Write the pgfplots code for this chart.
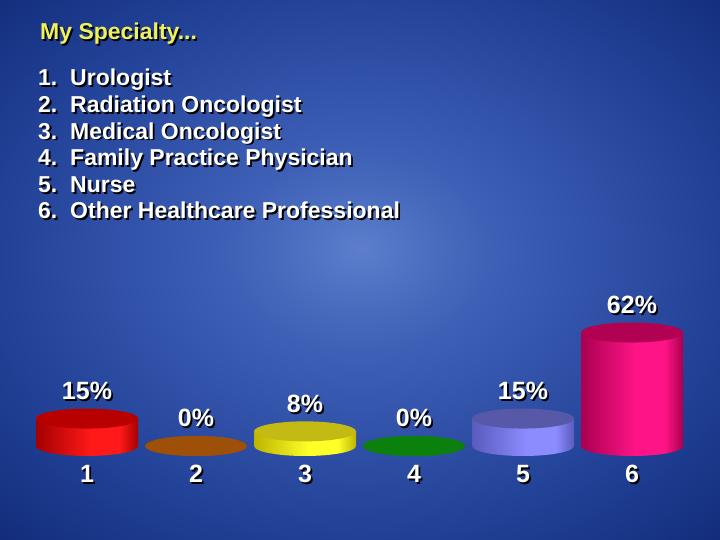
\documentclass[border=0pt]{standalone}
\usepackage{pgfplots}
\pgfplotsset{compat=1.18}
\usepackage{fontspec}
\setmainfont{Liberation Sans}

\definecolor{bgA}{RGB}{92,126,204}
\definecolor{bgB}{RGB}{62,96,182}
\definecolor{bgC}{RGB}{34,66,152}
\definecolor{bgD}{RGB}{18,44,122}
\definecolor{titleyellow}{RGB}{240,240,90}

\definecolor{r1d}{RGB}{165,0,0}\definecolor{r1b}{RGB}{255,25,25}\definecolor{r1t}{RGB}{185,0,0}
\definecolor{b2d}{RGB}{120,60,0}\definecolor{b2b}{RGB}{170,90,10}\definecolor{b2t}{RGB}{158,80,8}
\definecolor{y3d}{RGB}{190,180,0}\definecolor{y3b}{RGB}{255,255,40}\definecolor{y3t}{RGB}{196,186,20}
\definecolor{g4d}{RGB}{0,100,0}\definecolor{g4b}{RGB}{20,140,20}\definecolor{g4t}{RGB}{12,128,12}
\definecolor{p5d}{RGB}{90,90,190}\definecolor{p5b}{RGB}{140,140,255}\definecolor{p5t}{RGB}{88,88,168}
\definecolor{m6d}{RGB}{170,0,80}\definecolor{m6b}{RGB}{255,20,135}\definecolor{m6t}{RGB}{178,0,82}

\pgfdeclareradialshading{slidebg}{\pgfpoint{0bp}{2bp}}{color(0bp)=(bgA); color(9bp)=(bgB); color(25bp)=(bgC); color(36bp)=(bgD); color(50bp)=(bgD)}

\newcommand\defbody[3]{%
  \pgfdeclarehorizontalshading{#1}{100bp}{color(0bp)=(#2); color(25bp)=(#2); color(52bp)=(#3); color(66bp)=(#3); color(75bp)=(#2); color(100bp)=(#2)}%
  \pgfdeclareplotmark{cylbot-#1}{\pgfpathellipse{\pgfpointorigin}{\pgfqpoint{51pt}{0pt}}{\pgfqpoint{0pt}{10pt}}\pgfshadepath{#1}{0}\pgfusepath{discard}}%
}
\defbody{body1}{r1d}{r1b}
\defbody{body2}{b2d}{b2b}
\defbody{body3}{y3d}{y3b}
\defbody{body4}{g4d}{g4b}
\defbody{body5}{p5d}{p5b}
\defbody{body6}{m6d}{m6b}
\pgfdeclareplotmark{cyltop}{\pgfpathellipse{\pgfpointorigin}{\pgfqpoint{51pt}{0pt}}{\pgfqpoint{0pt}{10pt}}\pgfusepath{fill}}

\newcommand\sh[1]{\leavevmode\rlap{\kern1.8pt\raisebox{-1.8pt}{\color{black}#1}}#1}
\newcommand\titlefont{\bfseries\fontsize{23}{26}\selectfont}
\newcommand\listfont{\bfseries\fontsize{23}{26}\selectfont}
\newcommand\numfont{\bfseries\fontsize{25}{28}\selectfont}

% x position, value (percent), body shading, top colour
\newcommand\cyl[4]{%
  \addplot[ybar, bar width=102pt, bar shift=0pt, draw=none, shade, shading=#3] coordinates {(#1,#2)};
  \addplot[only marks, mark=cylbot-#3] coordinates {(#1,0)};
  \addplot[only marks, mark=cyltop, mark options={fill=#4, draw=none},
    nodes near coords={\sh{\pgfmathprintnumber{\pgfplotspointmeta}\%}},
    every node near coord/.append style={anchor=base, yshift=19pt, inner sep=0pt, text=white, font=\numfont}]
    coordinates {(#1,#2)};
}

\begin{document}
\begin{tikzpicture}
\shade[shading=slidebg] (0pt,0pt) rectangle (720pt,540pt);
\begin{axis}[
  at={(0pt,0pt)}, anchor=south west,
  x=109pt, y=1.83pt,
  xmin=0.2018, xmax=6.8073, ymin=-51.366, ymax=243.716,
  enlargelimits=false, clip=false,
  axis line style={draw=none}, tick style={draw=none},
  ytick=\empty,
  xtick={1,2,3,4,5,6},
  xticklabels={\sh{1},\sh{2},\sh{3},\sh{4},\sh{5},\sh{6}},
  xticklabel style={anchor=base, yshift=57pt, inner sep=0pt, text=white, font=\numfont},
  /pgf/number format/assume math mode=true,
]
\cyl{1}{15}{body1}{r1t}
\cyl{2}{0}{body2}{b2t}
\cyl{3}{8}{body3}{y3t}
\cyl{4}{0}{body4}{g4t}
\cyl{5}{15}{body5}{p5t}
\cyl{6}{62}{body6}{m6t}
\end{axis}
\node[anchor=base west, inner sep=0pt, text=titleyellow, font=\titlefont] at (40pt,500pt) {\sh{My Specialty...}};
\foreach \n/\t [count=\i from 0] in {1/Urologist, 2/Radiation Oncologist, 3/Medical Oncologist, 4/Family Practice Physician, 5/Nurse, 6/Other Healthcare Professional}{
  \node[anchor=base west, inner sep=0pt, text=white, font=\listfont] at (38pt,{454pt-26.6pt*\i}) {\sh{\n.}};
  \node[anchor=base west, inner sep=0pt, text=white, font=\listfont] at (70pt,{454pt-26.6pt*\i}) {\sh{\t}};
}
\end{tikzpicture}
\end{document}
